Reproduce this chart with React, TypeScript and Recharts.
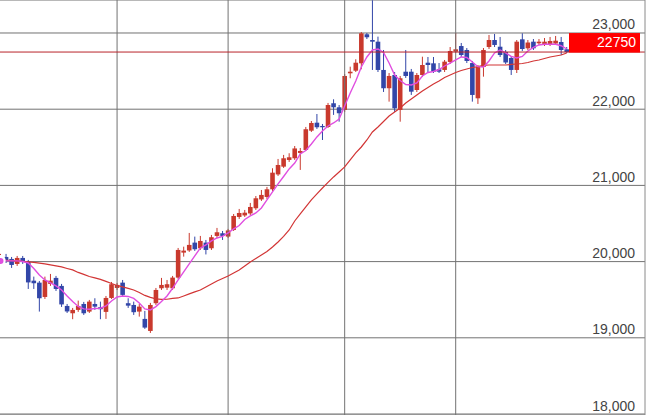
import React from 'react';
import { ComposedChart, Bar, Line, XAxis, YAxis, CartesianGrid, ReferenceLine } from 'recharts';

const opens = [20001, 20061, 20035, 19969, 20048, 19996, 19750, 19724, 19536, 19707, 19786, 19681, 19418, 19322, 19366, 19444, 19344, 19444, 19401, 19340, 19523, 19654, 19724, 19454, 19431, 19344, 19248, 19090, 19454, 19650, 19658, 19650, 19790, 20118, 20146, 20249, 20175, 20249, 20175, 20337, 20372, 20328, 20415, 20586, 20606, 20632, 20700, 20816, 20848, 20949, 21144, 21246, 21334, 21356, 21426, 21465, 21718, 21823, 21780, 21767, 22078, 22025, 21990, 22471, 22505, 22602, 22983, 22908, 22886, 22515, 22275, 22449, 21990, 22492, 22492, 22252, 22449, 22610, 22602, 22524, 22515, 22620, 22755, 22829, 22777, 22606, 22143, 22554, 22816, 22908, 22820, 22751, 22672, 22515, 22917, 22799, 22886, 22865, 22856, 22856, 22862, 22882, 22786];
const highs = [20101, 20101, 20061, 20074, 20074, 20022, 19803, 19746, 19803, 19838, 19812, 19707, 19444, 19392, 19488, 19471, 19497, 19519, 19475, 19549, 19733, 19720, 19759, 19519, 19475, 19444, 19353, 19458, 19654, 19786, 19759, 19812, 20179, 20196, 20376, 20328, 20337, 20284, 20350, 20442, 20402, 20429, 20625, 20691, 20678, 20770, 20861, 20940, 20980, 21225, 21347, 21400, 21422, 21517, 21491, 21767, 21845, 21937, 21806, 22082, 22130, 22055, 22462, 22558, 22655, 23013, 23000, 23430, 22952, 22777, 22475, 22488, 22436, 22777, 22528, 22475, 22689, 22685, 22685, 22606, 22646, 22816, 23000, 22869, 22803, 22633, 22580, 22803, 22974, 22987, 22948, 22777, 22698, 22908, 22996, 22908, 22921, 22921, 22934, 22948, 22961, 22948, 22816];
const lows = [19969, 19982, 19917, 19943, 19969, 19641, 19641, 19344, 19510, 19681, 19615, 19405, 19326, 19244, 19340, 19300, 19326, 19366, 19244, 19248, 19510, 19628, 19536, 19392, 19300, 19278, 19117, 19064, 19431, 19628, 19628, 19628, 19773, 20065, 20127, 20140, 20153, 20094, 20153, 20310, 20284, 20310, 20402, 20560, 20586, 20612, 20678, 20796, 20822, 20927, 21124, 21229, 21308, 21334, 21203, 21452, 21701, 21741, 21596, 21754, 21925, 21836, 21964, 22406, 22488, 22524, 22921, 22515, 22488, 22226, 22099, 21964, 21836, 22410, 22187, 22226, 22423, 22488, 22475, 22475, 22488, 22593, 22738, 22685, 22606, 22099, 22069, 22427, 22790, 22816, 22685, 22593, 22449, 22475, 22764, 22777, 22777, 22843, 22829, 22829, 22843, 22711, 22738];
const closes = [20074, 20009, 19956, 20048, 19996, 19727, 19716, 19519, 19759, 19750, 19641, 19438, 19346, 19366, 19418, 19322, 19475, 19409, 19375, 19523, 19703, 19694, 19563, 19422, 19336, 19409, 19134, 19431, 19628, 19694, 19703, 19790, 20153, 20144, 20219, 20162, 20271, 20153, 20320, 20385, 20337, 20409, 20599, 20638, 20642, 20717, 20831, 20875, 20949, 21167, 21268, 21356, 21369, 21485, 21452, 21737, 21819, 21763, 21763, 22055, 22025, 21947, 22436, 22492, 22610, 22996, 22944, 22886, 22515, 22275, 22436, 22012, 22406, 22436, 22230, 22449, 22580, 22580, 22492, 22492, 22624, 22764, 22786, 22711, 22633, 22187, 22554, 22777, 22908, 22843, 22711, 22613, 22515, 22886, 22790, 22875, 22799, 22886, 22886, 22895, 22899, 22777, 22750];
const maShort = [20009, 20009, 20009, 20009, 20002, 19982, 19910, 19825, 19759, 19720, 19681, 19628, 19549, 19477, 19412, 19379, 19375, 19385, 19388, 19418, 19484, 19536, 19549, 19543, 19517, 19458, 19379, 19366, 19409, 19475, 19549, 19650, 19759, 19864, 19969, 20074, 20179, 20219, 20271, 20310, 20330, 20376, 20429, 20474, 20553, 20599, 20638, 20704, 20809, 20914, 21019, 21117, 21216, 21294, 21413, 21458, 21544, 21636, 21714, 21780, 21819, 21872, 22042, 22213, 22370, 22554, 22685, 22777, 22790, 22744, 22606, 22449, 22377, 22324, 22318, 22344, 22436, 22482, 22495, 22521, 22567, 22606, 22646, 22685, 22679, 22620, 22558, 22554, 22633, 22738, 22777, 22738, 22692, 22672, 22692, 22764, 22810, 22843, 22852, 22852, 22852, 22833, 22790];
const maLong = [20022, 20018, 20013, 20009, 20002, 19996, 19989, 19979, 19969, 19956, 19943, 19930, 19910, 19891, 19858, 19832, 19805, 19786, 19766, 19740, 19713, 19687, 19668, 19648, 19628, 19595, 19556, 19530, 19510, 19504, 19506, 19517, 19523, 19549, 19576, 19602, 19628, 19668, 19707, 19746, 19779, 19812, 19851, 19891, 19943, 19996, 20041, 20087, 20133, 20192, 20258, 20330, 20415, 20533, 20625, 20717, 20809, 20888, 20966, 21039, 21111, 21176, 21242, 21334, 21426, 21504, 21596, 21701, 21767, 21839, 21911, 21964, 22016, 22082, 22134, 22187, 22239, 22285, 22331, 22370, 22416, 22449, 22482, 22508, 22528, 22547, 22558, 22574, 22580, 22580, 22580, 22580, 22587, 22593, 22600, 22613, 22633, 22646, 22665, 22685, 22698, 22711, 22738];
const monthStarts = [21, 41, 62, 82];
const yTicks = [18000, 19000, 20000, 21000, 22000, 23000];
const lastPrice = 22750;

const UP = '#c9392d';
const DOWN = '#3246a8';
const GRID = '#727272';
const FONT = "Arial, 'Liberation Sans', sans-serif";

const data = opens.map((o, i) => ({
  i,
  o,
  h: highs[i],
  l: lows[i],
  c: closes[i],
  range: [lows[i], highs[i]],
  maShort: maShort[i],
  maLong: maLong[i],
}));

const Candle = (props: any) => {
  const { x, y, width, height, payload } = props;
  if (x == null || y == null || !payload) return null;
  const { o, h, l, c } = payload;
  const cx = x + width / 2;
  const top = Math.min(y, y + height);
  const hAbs = Math.abs(height);
  const span = h - l;
  const ppu = span > 0 ? hAbs / span : 0;
  const yOf = (v: number) => top + (h - v) * ppu;
  const bTop = yOf(Math.max(o, c));
  const bBot = yOf(Math.min(o, c));
  const color = c >= o ? UP : DOWN;
  const bw = 4.6;
  return (
    <g>
      <line x1={cx} x2={cx} y1={top} y2={top + hAbs} stroke={color} strokeWidth={1} />
      <rect x={cx - bw / 2} y={bTop} width={bw} height={Math.max(1.2, bBot - bTop)} fill={color} />
    </g>
  );
};

const YTick = (props: any) => {
  const { x, y, payload } = props;
  return (
    <text x={x - 10} y={y - 3.5} textAnchor="end" fontSize={14} fill="#444" fontFamily={FONT}>
      {Number(payload.value).toLocaleString('en-US')}
    </text>
  );
};

const PriceLine = (props: any) => {
  const { x1, y1, x2 } = props;
  if (x1 == null || y1 == null) return null;
  const left = Math.min(Number(x1), Number(x2));
  const right = Math.max(Number(x1), Number(x2));
  const yy = Number(y1);
  return (
    <g>
      <line x1={left} x2={right} y1={yy} y2={yy} stroke="#b8232a" strokeWidth={1} />
      <rect x={right - 76} y={yy - 19} width={71} height={19.5} fill="#ff0000" />
      <text x={right - 9} y={yy - 5.5} textAnchor="end" fontSize={14} fill="#ffffff" fontFamily={FONT}>
        {String(lastPrice)}
      </text>
    </g>
  );
};

export default function App() {
  return (
    <div style={{ position: 'absolute', left: 0, top: 0, width: 647, height: 415, background: '#fff' }}>
      <ComposedChart width={647} height={415} data={data} margin={{ top: 0, right: 0, bottom: 0, left: 0 }}>
        <CartesianGrid vertical={false} stroke={GRID} strokeWidth={1} />
        <XAxis dataKey="i" type="number" domain={[-0.09, 116.1]} allowDataOverflow hide />
        <YAxis
          orientation="right"
          width={2}
          domain={[17987, 23433]}
          allowDataOverflow
          ticks={yTicks}
          interval={0}
          tickLine={false}
          tickSize={0}
          tickMargin={0}
          axisLine={{ stroke: '#8a8a8a' }}
          tick={<YTick />}
        />
        {monthStarts.map((m) => (
          <ReferenceLine key={m} x={m} stroke={GRID} strokeWidth={1} />
        ))}
        <Bar dataKey="range" barSize={3.55} shape={<Candle />} isAnimationActive={false} />
        <Line dataKey="maLong" type="linear" stroke="#d23535" strokeWidth={1.2} dot={false} isAnimationActive={false} />
        <Line dataKey="maShort" type="linear" stroke="#e04fe0" strokeWidth={1.4} dot={false} isAnimationActive={false} />
        <ReferenceLine y={lastPrice} shape={<PriceLine />} />
      </ComposedChart>
    </div>
  );
}
